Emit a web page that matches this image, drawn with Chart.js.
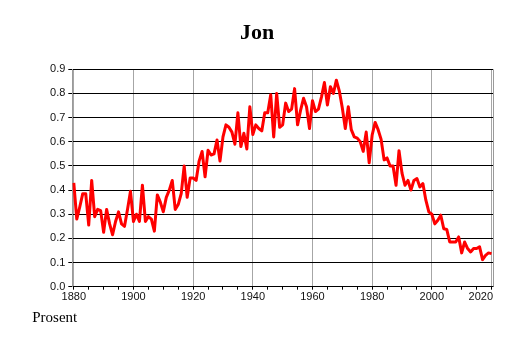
<!DOCTYPE html>
<html><head><meta charset="utf-8">
<script src="https://cdn.jsdelivr.net/npm/chart.js@4/dist/chart.umd.min.js"></script>
<style>html,body{margin:0;padding:0;background:#fff}canvas{display:block}</style>
</head><body>
<canvas id="c" width="514" height="343"></canvas>
<script>
const chartTitle = 'Jon';
const unitLabel = 'Prosent';
const firstYear = 1880;
const values = [
  0.43, 0.28, 0.33, 0.385, 0.385, 0.255, 0.44, 0.29, 0.32, 0.315,
  0.225, 0.32, 0.26, 0.215, 0.27, 0.31, 0.26, 0.25, 0.32, 0.395,
  0.27, 0.30, 0.27, 0.42, 0.27, 0.29, 0.28, 0.23, 0.38, 0.35,
  0.31, 0.37, 0.40, 0.44, 0.32, 0.34, 0.385, 0.50, 0.37, 0.45,
  0.45, 0.44, 0.52, 0.56, 0.455, 0.565, 0.545, 0.55, 0.607, 0.52,
  0.62, 0.67, 0.66, 0.64, 0.59, 0.72, 0.58, 0.635, 0.57, 0.745,
  0.63, 0.67, 0.655, 0.645, 0.72, 0.72, 0.795, 0.62, 0.80, 0.66,
  0.67, 0.76, 0.725, 0.735, 0.82, 0.67, 0.73, 0.78, 0.745, 0.655,
  0.77, 0.725, 0.735, 0.785, 0.845, 0.752, 0.828, 0.80, 0.855, 0.81,
  0.74, 0.655, 0.745, 0.65, 0.62, 0.615, 0.60, 0.56, 0.64, 0.513,
  0.628, 0.68, 0.65, 0.61, 0.525, 0.533, 0.50, 0.50, 0.42, 0.563,
  0.47, 0.42, 0.44, 0.40, 0.44, 0.448, 0.413, 0.427, 0.358, 0.31,
  0.30, 0.26, 0.275, 0.296, 0.24, 0.237, 0.185, 0.185, 0.185, 0.206,
  0.14, 0.185, 0.158, 0.144, 0.158, 0.158, 0.165, 0.112, 0.13, 0.14,
  0.137
];
const xMinorTicks = [1880,1885,1890,1895,1900,1905,1910,1915,1920,1925,1930,1935,1940,1945,1950,1955,1960,1965,1970,1975,1980,1985,1990,1995,2000,2005,2010,2015,2020];
const xLabelYears = [1880,1900,1920,1940,1960,1980,2000,2020];
const yTicks = [0,0.1,0.2,0.3,0.4,0.5,0.6,0.7,0.8,0.9];

const points = values.map((v, i) => ({x: firstYear + i, y: v}));
const lastLabelYear = xLabelYears[xLabelYears.length - 1];

const rightBorder = {
  id: 'rightBorder',
  beforeDatasetsDraw(chart) {
    const a = chart.chartArea, ctx = chart.ctx;
    ctx.save();
    ctx.strokeStyle = '#9a9a9a';
    ctx.lineWidth = 1;
    ctx.beginPath();
    const x = Math.round(a.right) + 0.5;
    ctx.moveTo(x, a.top);
    ctx.lineTo(x, a.bottom);
    ctx.stroke();
    ctx.restore();
  }
};

const sans = "'Liberation Sans', Arial, Helvetica, sans-serif";
const serif = "'Liberation Serif', 'Times New Roman', Times, serif";

new Chart(document.getElementById('c'), {
  type: 'line',
  data: {
    datasets: [{
      data: points,
      borderColor: '#ff0000',
      borderWidth: 3,
      borderJoinStyle: 'round',
      borderCapStyle: 'butt',
      pointRadius: 0,
      tension: 0,
      fill: false
    }]
  },
  options: {
    responsive: false,
    animation: false,
    devicePixelRatio: 1,
    layout: {padding: {left: 21, right: 21, top: 0, bottom: 16}},
    plugins: {
      legend: {display: false},
      tooltip: {enabled: false},
      title: {
        display: true,
        text: chartTitle,
        color: '#000',
        font: {family: serif, size: 22, weight: 'bold', lineHeight: 1.2},
        padding: {top: 20.3, bottom: 22.6}
      },
      subtitle: {
        display: true,
        position: 'bottom',
        align: 'start',
        text: '\u00A0\u00A0\u00A0' + unitLabel,
        color: '#000',
        font: {family: serif, size: 15, weight: 'normal', lineHeight: 1.2},
        padding: {top: 6.3, bottom: 0}
      }
    },
    scales: {
      x: {
        type: 'linear',
        min: 1879.5,
        max: 2020.5,
        afterBuildTicks(scale) { scale.ticks = xMinorTicks.map(v => ({value: v})); },
        afterFit(scale) { scale.height = 16; scale.paddingLeft = 0; scale.paddingRight = 0; },
        border: {display: true, color: '#000', width: 1},
        grid: {
          drawOnChartArea: true,
          drawTicks: true,
          tickLength: 3,
          color: (c) => (c.tick && xLabelYears.includes(c.tick.value)) ? '#a6a6a6' : 'rgba(0,0,0,0)',
          tickColor: '#000'
        },
        ticks: {
          autoSkip: false,
          maxRotation: 0,
          minRotation: 0,
          padding: 1,
          color: '#111',
          font: {family: sans, size: 11},
          callback: (v) => xLabelYears.includes(v) ? (v === lastLabelYear ? String(v) + '\u00A0'.repeat(7) : String(v)) : ''
        }
      },
      y: {
        type: 'linear',
        min: 0,
        max: 0.9,
        afterBuildTicks(scale) { scale.ticks = yTicks.map(v => ({value: v})); },
        afterFit(scale) { scale.width = 51.3; },
        border: {display: true, color: '#9a9a9a', width: 1},
        grid: {
          color: '#000',
          tickColor: '#000',
          tickLength: 4,
          drawTicks: true
        },
        ticks: {
          padding: 3,
          color: '#111',
          font: {family: sans, size: 11},
          callback: (v) => Number(v).toFixed(1)
        }
      }
    }
  },
  plugins: [rightBorder]
});
</script>
</body></html>
